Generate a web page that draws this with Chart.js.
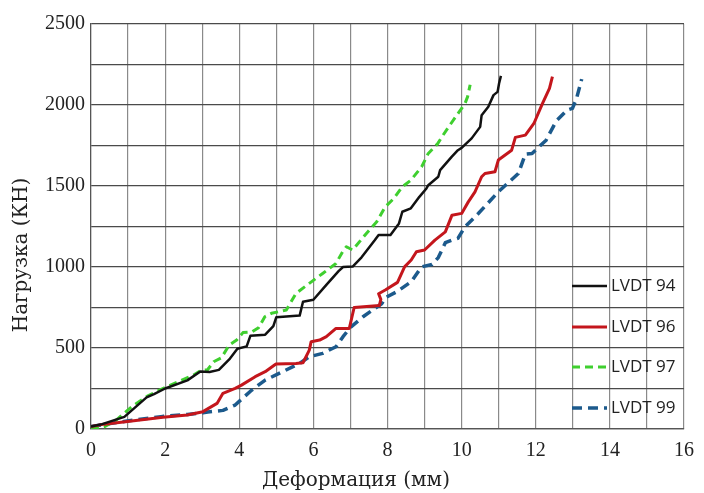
<!DOCTYPE html>
<html>
<head>
<meta charset="utf-8">
<script src="https://cdn.jsdelivr.net/npm/chart.js@4.4.0/dist/chart.umd.min.js"></script>
<style>
  html, body { margin: 0; padding: 0; background: #fff; }
</style>
</head>
<body>
<canvas id="myChart" width="704" height="493"></canvas>
<script>
// deformation (mm), load (KN)
const lvdt94 = [[0,15],[0.3,30],[0.9,75],[1.5,195],[1.7,215],[2.0,250],[2.6,300],[2.95,355],[3.2,352],[3.45,365],[3.75,435],[3.95,495],[4.2,510],[4.3,575],[4.7,582],[4.92,635],[5.0,690],[5.63,700],[5.72,785],[6.0,798],[6.35,890],[6.68,975],[6.8,1000],[7.06,1003],[7.3,1060],[7.66,1166],[7.76,1197],[8.08,1197],[8.31,1269],[8.4,1341],[8.63,1362],[8.86,1433],[9.05,1485],[9.1,1505],[9.37,1557],[9.42,1598],[9.73,1680],[9.9,1721],[10.0,1735],[10.27,1794],[10.5,1865],[10.54,1937],[10.72,1989],[10.86,2061],[10.97,2081],[11.01,2133],[11.06,2180]];
const lvdt96 = [[0,15],[0.35,30],[0.93,45],[1.94,72],[2.6,86],[3.02,107],[3.4,158],[3.56,220],[3.89,251],[4.06,271],[4.43,323],[4.7,354],[4.99,401],[5.53,405],[5.72,409],[5.89,487],[5.94,539],[6.17,549],[6.35,570],[6.61,621],[6.97,621],[7.1,750],[7.78,762],[7.82,800],[7.76,835],[7.94,858],[8.27,905],[8.46,1001],[8.64,1043],[8.78,1094],[9.0,1105],[9.28,1166],[9.56,1217],[9.74,1320],[10.0,1331],[10.18,1402],[10.36,1464],[10.54,1557],[10.63,1577],[10.9,1588],[10.99,1660],[11.35,1721],[11.45,1800],[11.72,1814],[11.95,1886],[12.18,2009],[12.37,2102],[12.45,2175]];
const lvdt97 = [[0,0],[0.35,12],[0.68,55],[1.1,137],[1.52,203],[1.85,240],[2.35,292],[2.77,333],[2.98,364],[3.14,364],[3.31,415],[3.52,440],[3.73,518],[3.93,549],[4.1,595],[4.35,600],[4.52,625],[4.69,693],[4.87,714],[5.27,734],[5.53,837],[5.89,899],[6.25,960],[6.61,1022],[6.79,1095],[6.89,1125],[7.06,1105],[7.43,1207],[7.71,1279],[7.94,1372],[8.17,1423],[8.4,1495],[8.63,1536],[8.92,1618],[9.1,1701],[9.35,1760],[9.47,1804],[9.65,1865],[10.09,2009],[10.16,2050],[10.23,2125]];
const lvdt99 = [[0,15],[0.35,28],[0.93,48],[1.94,78],[2.6,90],[3.02,100],[3.15,105],[3.56,115],[3.89,148],[4.14,200],[4.31,235],[4.7,302],[5.17,354],[5.63,405],[5.89,446],[6.25,467],[6.61,508],[6.8,570],[7.0,627],[7.34,693],[7.85,775],[7.94,810],[8.27,850],[8.64,909],[8.92,1001],[9.2,1015],[9.37,1058],[9.56,1150],[9.73,1165],[9.9,1177],[10.09,1248],[10.45,1330],[10.99,1464],[11.53,1577],[11.72,1697],[11.9,1701],[12.28,1783],[12.55,1900],[12.84,1968],[12.99,1979],[13.1,2040],[13.24,2160]];

const seriesNames = ['LVDT 94', 'LVDT 96', 'LVDT 97', 'LVDT 99'];
const seriesData = [lvdt94, lvdt96, lvdt97, lvdt99];
const xTitle = 'Деформация (мм)';
const yTitle = 'Нагрузка (КН)';

const colors = ['#111111', '#c4161c', '#3fcf2f', '#1c5a8c'];
const widths = [2.5, 3, 3, 3.5];
const dashes = [[], [], [8, 5], [10, 6]];

const serif = "'Liberation Serif', serif";
const serif2 = "'DejaVu Serif', serif";

// titles and the legend placed inside the plot
const extras = {
  id: 'extras',
  afterDraw(chart) {
    const c = chart.ctx;
    c.save();
    c.fillStyle = '#222';
    c.font = '20px ' + serif2;
    c.textAlign = 'center';
    c.textBaseline = 'middle';
    c.fillText(xTitle, 356, 481);
    c.translate(22, 255);
    c.rotate(-Math.PI / 2);
    c.fillText(yTitle, 0, 0);
    c.restore();

    c.save();
    const ys = [286, 327, 367, 408];
    chart.data.datasets.forEach((ds, i) => {
      c.strokeStyle = ds.borderColor;
      c.lineWidth = ds.borderWidth;
      c.setLineDash(ds.borderDash);
      c.beginPath();
      c.moveTo(572, ys[i]);
      c.lineTo(607, ys[i]);
      c.stroke();
      c.setLineDash([]);
      c.fillStyle = '#222';
      c.font = "17px 'Open Sans', sans-serif";
      c.textAlign = 'left';
      c.textBaseline = 'middle';
      c.fillText(ds.label, 611, ys[i]);
    });
    c.restore();
  }
};

new Chart(document.getElementById('myChart'), {
  type: 'line',
  data: {
    datasets: seriesData.map((d, i) => ({
      label: seriesNames[i],
      data: d.map(p => ({ x: p[0], y: p[1] })),
      borderColor: colors[i],
      backgroundColor: colors[i],
      borderWidth: widths[i],
      borderDash: dashes[i],
      pointRadius: 0,
      tension: 0,
      borderJoinStyle: 'round',
      fill: false
    }))
  },
  options: {
    responsive: false,
    devicePixelRatio: 1,
    animation: false,
    layout: { padding: { top: 24, right: 10, left: 0, bottom: 0 } },
    plugins: { legend: { display: false }, tooltip: { enabled: false } },
    scales: {
      x: {
        type: 'linear',
        min: 0,
        max: 16,
        afterFit: s => { s.height = 64; },
        ticks: {
          stepSize: 1,
          autoSkip: false,
          maxRotation: 0,
          padding: 10,
          color: '#222',
          font: { family: serif, size: 20 },
          callback: v => (v % 2 === 0 ? v : '')
        },
        grid: { color: '#8a8a8a', lineWidth: 1.2, drawTicks: false },
        border: { color: '#555', width: 1.2 }
      },
      y: {
        min: 0,
        max: 2500,
        afterFit: s => { s.width = 91; },
        ticks: {
          stepSize: 250,
          autoSkip: false,
          padding: 6,
          color: '#222',
          font: { family: serif, size: 20 },
          callback: v => (v % 500 === 0 ? v : '')
        },
        grid: { color: '#4a4a4a', lineWidth: 1.2, drawTicks: false },
        border: { color: '#555', width: 1.2 }
      }
    }
  },
  plugins: [extras]
});
</script>
</body>
</html>
